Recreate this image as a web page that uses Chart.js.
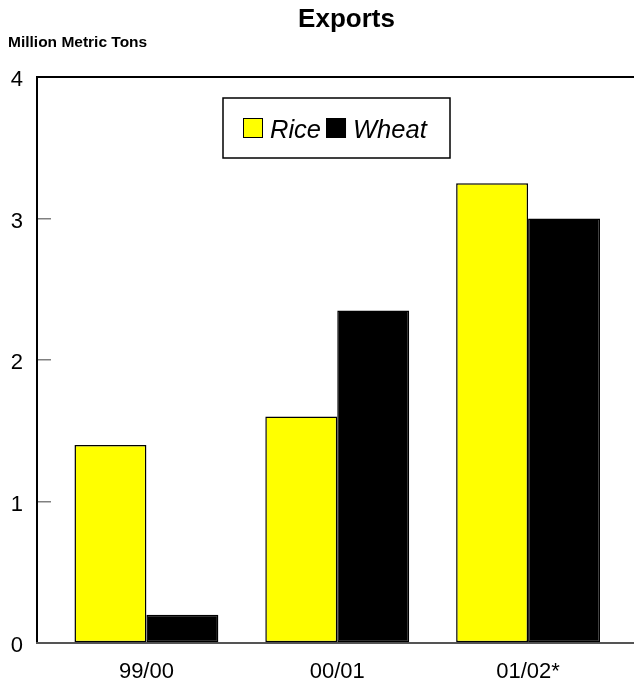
<!DOCTYPE html>
<html>
<head>
<meta charset="utf-8">
<script src="https://cdn.jsdelivr.net/npm/chart.js@4"></script>
<style>
  html, body { margin: 0; padding: 0; background: #fff; }
  #wrap { width: 634px; height: 683px; position: relative; }
</style>
</head>
<body>
<div id="wrap"><canvas id="exportsChart"></canvas></div>
<script>
const seasons = ['99/00', '00/01', '01/02*'];
const rice = [1.4, 1.6, 3.25];
const wheat = [0.2, 2.35, 3.0];
const yTicks = [0, 1, 2, 3, 4];

const FONT = "'Liberation Sans', Arial, sans-serif";

// titulo, ejes y leyenda a mano
const extras = {
    id: 'extras',
    beforeDatasetsDraw(chart) {
        const ctx = chart.ctx;
        const area = chart.chartArea;
        const axisX = 37;
        ctx.save();
        ctx.strokeStyle = '#000';
        ctx.lineWidth = 2;
        ctx.beginPath();
        ctx.moveTo(axisX, area.top);
        ctx.lineTo(axisX, area.bottom);
        ctx.moveTo(axisX - 1, area.top);
        ctx.lineTo(chart.width, area.top);
        ctx.stroke();
        ctx.strokeStyle = '#555';
        ctx.beginPath();
        ctx.moveTo(axisX - 1, area.bottom);
        ctx.lineTo(chart.width, area.bottom);
        ctx.stroke();
        ctx.restore();
    },
    afterDraw(chart) {
        const ctx = chart.ctx;
        ctx.save();
        ctx.fillStyle = '#000';
        ctx.textBaseline = 'alphabetic';
        ctx.textAlign = 'center';
        ctx.font = 'bold 26px ' + FONT;
        ctx.fillText('Exports', 346.5, 27);
        ctx.textAlign = 'left';
        ctx.font = 'bold 15.5px ' + FONT;
        ctx.fillText('Million Metric Tons', 8, 47);

        // caja de leyenda
        ctx.fillStyle = '#fff';
        ctx.fillRect(223, 98, 227, 60);
        ctx.strokeStyle = '#000';
        ctx.lineWidth = 1.5;
        ctx.strokeRect(223, 98, 227, 60);

        ctx.font = 'italic 25.5px ' + FONT;
        let x = 243;
        chart.data.datasets.forEach(ds => {
            ctx.fillStyle = ds.backgroundColor;
            ctx.fillRect(x, 118, 20, 20);
            ctx.lineWidth = 1;
            ctx.strokeStyle = '#000';
            ctx.strokeRect(x + 0.5, 118.5, 19, 19);
            ctx.fillStyle = '#000';
            ctx.fillText(ds.label, x + 27, 138);
            x += 27 + ctx.measureText(ds.label).width + 5;
        });
        ctx.restore();
    }
};

const ctx = document.getElementById('exportsChart').getContext('2d');
new Chart(ctx, {
    type: 'bar',
    data: {
        labels: seasons,
        datasets: [
            {
                label: 'Rice',
                data: rice,
                backgroundColor: '#ffff00',
                borderColor: '#000',
                borderWidth: 1.5,
                borderSkipped: false
            },
            {
                label: 'Wheat',
                data: wheat,
                backgroundColor: '#000000',
                borderColor: '#000',
                borderWidth: 1.5,
                borderSkipped: false
            }
        ]
    },
    options: {
        responsive: true,
        maintainAspectRatio: false,
        animation: false,
        layout: { padding: { left: 11, right: 10.5, top: 77, bottom: 0 } },
        categoryPercentage: 0.754,
        barPercentage: 1,
        plugins: {
            legend: { display: false },
            title: { display: false },
            tooltip: { enabled: false }
        },
        scales: {
            x: {
                grid: { display: false },
                border: { display: false },
                ticks: {
                    color: '#000',
                    padding: 8,
                    font: { family: FONT, size: 22 }
                },
                afterFit(scale) { scale.height = 40; }
            },
            y: {
                min: 0,
                max: 4,
                afterBuildTicks(scale) {
                    scale.ticks = yTicks.map(v => ({ value: v }));
                },
                grid: {
                    drawOnChartArea: false,
                    drawTicks: true,
                    tickLength: 14,
                    color: '#808080',
                    lineWidth: 1.5
                },
                border: { display: false },
                ticks: {
                    color: '#000',
                    padding: 14,
                    labelOffset: 3,
                    font: { family: FONT, size: 22 }
                },
                afterFit(scale) { scale.width = 40; }
            }
        }
    },
    plugins: [extras]
});
</script>
</body>
</html>
